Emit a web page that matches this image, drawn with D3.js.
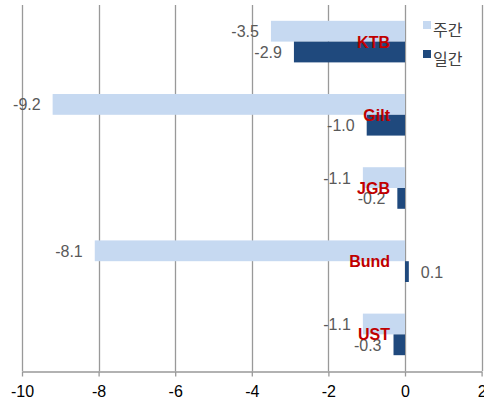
<!DOCTYPE html>
<html>
<head>
<meta charset="utf-8">
<script src="https://d3js.org/d3.v7.min.js"></script>
<style>
body { margin: 0; background: #fff; }
text { font-family: "Liberation Sans", Arial, "Noto Sans CJK KR", sans-serif; }
</style>
</head>
<body>
<svg id="chart" width="484" height="404"></svg>
<script>
// data
var categories = ["KTB", "Gilt", "JGB", "Bund", "UST"];
var seriesNames = ["주간", "일간"];
var weekly = [-3.5, -9.2, -1.1, -8.1, -1.1];
var daily = [-2.9, -1.0, -0.2, 0.1, -0.3];
var ticks = [-10, -8, -6, -4, -2, 0, 2];

var colors = ["#c6d9f1", "#1f497d"];

var svg = d3.select("#chart");
var plotLeft = 22, plotRight = 481.6, plotTop = 5, plotBottom = 371;

var x = d3.scaleLinear().domain([-10, 2]).range([plotLeft, plotRight]);
var y = d3.scaleBand().domain(categories).range([plotTop, plotBottom]).paddingInner(0.432).paddingOuter(0.216);
var y1 = d3.scaleBand().domain(seriesNames).range([0, y.bandwidth()]);

// grid lines
svg.append("g")
  .selectAll("line").data(ticks).enter().append("line")
  .attr("x1", function(d) { return Math.round(x(d)) + 0.5; })
  .attr("x2", function(d) { return Math.round(x(d)) + 0.5; })
  .attr("y1", plotTop).attr("y2", plotBottom)
  .attr("stroke", "#999").attr("stroke-width", 1.3);

// bars
var rows = categories.map(function(c, i) { return {cat: c, vals: [weekly[i], daily[i]]}; });
var grp = svg.append("g").selectAll("g").data(rows).enter().append("g")
  .attr("transform", function(d) { return "translate(0," + y(d.cat) + ")"; });

grp.selectAll("rect").data(function(d) { return d.vals; }).enter().append("rect")
  .attr("x", function(d) { return x(Math.min(0, d)); })
  .attr("width", function(d) { return Math.abs(x(d) - x(0)); })
  .attr("y", function(d, i) { return y1(seriesNames[i]); })
  .attr("height", y1.bandwidth())
  .attr("fill", function(d, i) { return colors[i]; });

// value labels
grp.selectAll("text.val").data(function(d) { return d.vals; }).enter().append("text")
  .attr("class", "val")
  .attr("x", function(d) { return d < 0 ? x(d) - 12 : x(d) + 12; })
  .attr("y", function(d, i) { return y1(seriesNames[i]) + y1.bandwidth() / 2 + 6; })
  .attr("text-anchor", function(d) { return d < 0 ? "end" : "start"; })
  .attr("font-size", "16px")
  .attr("fill", "#595959")
  .text(function(d) { return d.toFixed(1); });

// category labels
grp.append("text")
  .attr("x", 390)
  .attr("y", y.bandwidth() / 2 + 6)
  .attr("text-anchor", "end")
  .attr("font-size", "16px")
  .attr("font-weight", "bold")
  .attr("fill", "#c00000")
  .text(function(d) { return d.cat; });

// x axis
var axis = svg.append("g")
  .attr("transform", "translate(0," + (plotBottom + 0.5) + ")")
  .call(d3.axisBottom(x).tickValues(ticks).tickSize(5).tickSizeOuter(0)
    .tickFormat(function(d) { return String(d); }));
axis.select(".domain").attr("stroke", "#999").attr("stroke-width", 1.3);
axis.selectAll(".tick line").attr("stroke", "#999").attr("stroke-width", 1.3);
axis.selectAll(".tick text")
  .attr("font-size", "16px").attr("fill", "#000")
  .attr("y", 20).attr("dy", "0.35em")
  .style("font-family", "'Liberation Sans', Arial, sans-serif");

// legend
var legend = svg.append("g").selectAll("g").data(seriesNames).enter().append("g")
  .attr("transform", function(d, i) { return "translate(423," + (21 + i * 29) + ")"; });
legend.append("rect").attr("width", 8).attr("height", 8)
  .attr("fill", function(d, i) { return colors[i]; });
legend.append("text").attr("x", 10).attr("y", 14.5)
  .attr("font-size", "16px").attr("fill", "#404040")
  .style("font-family", "'Noto Sans CJK KR', sans-serif")
  .text(function(d) { return d; });
</script>
</body>
</html>
